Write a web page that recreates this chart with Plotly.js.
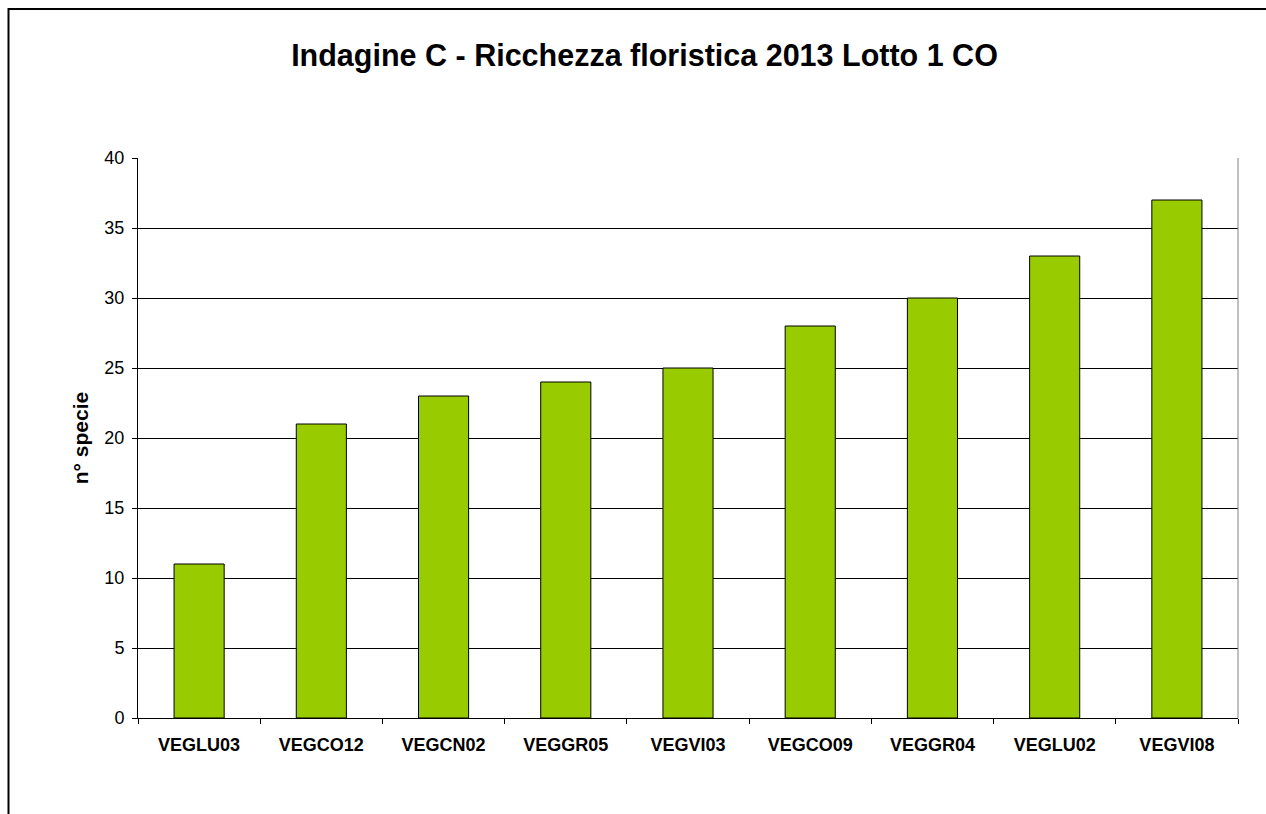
<!DOCTYPE html>
<html>
<head>
<meta charset="utf-8">
<script src="https://cdn.plot.ly/plotly-3.0.1.min.js"></script>
<style>html,body{margin:0;padding:0;background:#fff;}#chart{width:1266px;height:814px;}</style>
</head>
<body>
<div id="chart"></div>
<script>
const categories = ["VEGLU03","VEGCO12","VEGCN02","VEGGR05","VEGVI03","VEGCO09","VEGGR04","VEGLU02","VEGVI08"];
const species = [11, 21, 23, 24, 25, 28, 30, 33, 37];
const yTicks = [0, 5, 10, 15, 20, 25, 30, 35, 40];

const FONT = 'Arial, "Liberation Sans", sans-serif';

const trace = {
  type: 'bar',
  x: categories,
  y: species,
  width: 0.41,
  marker: {color: '#99CC00', line: {color: '#000000', width: 1}},
  hoverinfo: 'x+y'
};

const layout = {
  width: 1266, height: 814,
  margin: {l: 138, r: 28, t: 158, b: 96},
  paper_bgcolor: '#ffffff', plot_bgcolor: '#ffffff',
  font: {family: FONT, color: '#000'},
  showlegend: false,
  title: {text: '<b>Indagine C - Ricchezza floristica 2013 Lotto 1 CO</b>', font: {size: 30.5, color: '#000', family: FONT}, x: 644.5/1266, xanchor: 'center', y: 1 - 55/814, yanchor: 'middle', xref: 'container', yref: 'container'},
  xaxis: {
    type: 'category',
    tickson: 'boundaries',
    ticks: 'outside', ticklen: 5, tickcolor: '#000', tickwidth: 1,
    showline: true, linecolor: '#000', linewidth: 1,
    showgrid: false, zeroline: false,
    tickfont: {size: 18, color: '#000', family: FONT},
    tickprefix: '<b>', ticksuffix: '</b>',
    ticklabelstandoff: 10,
    automargin: false
  },
  yaxis: {
    range: [0, 40],
    tickvals: yTicks,
    ticktext: yTicks.map(String),
    ticks: 'outside', ticklen: 5, tickcolor: '#000', tickwidth: 1,
    showline: true, linecolor: '#000', linewidth: 1,
    showgrid: true, gridcolor: '#000', gridwidth: 1,
    zeroline: false,
    tickfont: {size: 18, color: '#000', family: FONT},
    ticklabelstandoff: 4,
    title: {text: '<b>n° specie</b>', font: {size: 21, color: '#000', family: FONT}, standoff: 10},
    automargin: false
  },
  shapes: [
    {type: 'line', xref: 'paper', yref: 'paper', x0: 1, x1: 1, y0: 0, y1: 1, line: {color: '#808080', width: 1}},
    {type: 'rect', xref: 'paper', yref: 'paper', x0: (8.5-138)/1100, x1: 1.2, y0: -0.4, y1: (718-9)/560, line: {color: '#000', width: 2}, fillcolor: 'rgba(0,0,0,0)', layer: 'below'}
  ]
};

Plotly.newPlot('chart', [trace], layout, {displayModeBar: false, staticPlot: true});
</script>
</body>
</html>
